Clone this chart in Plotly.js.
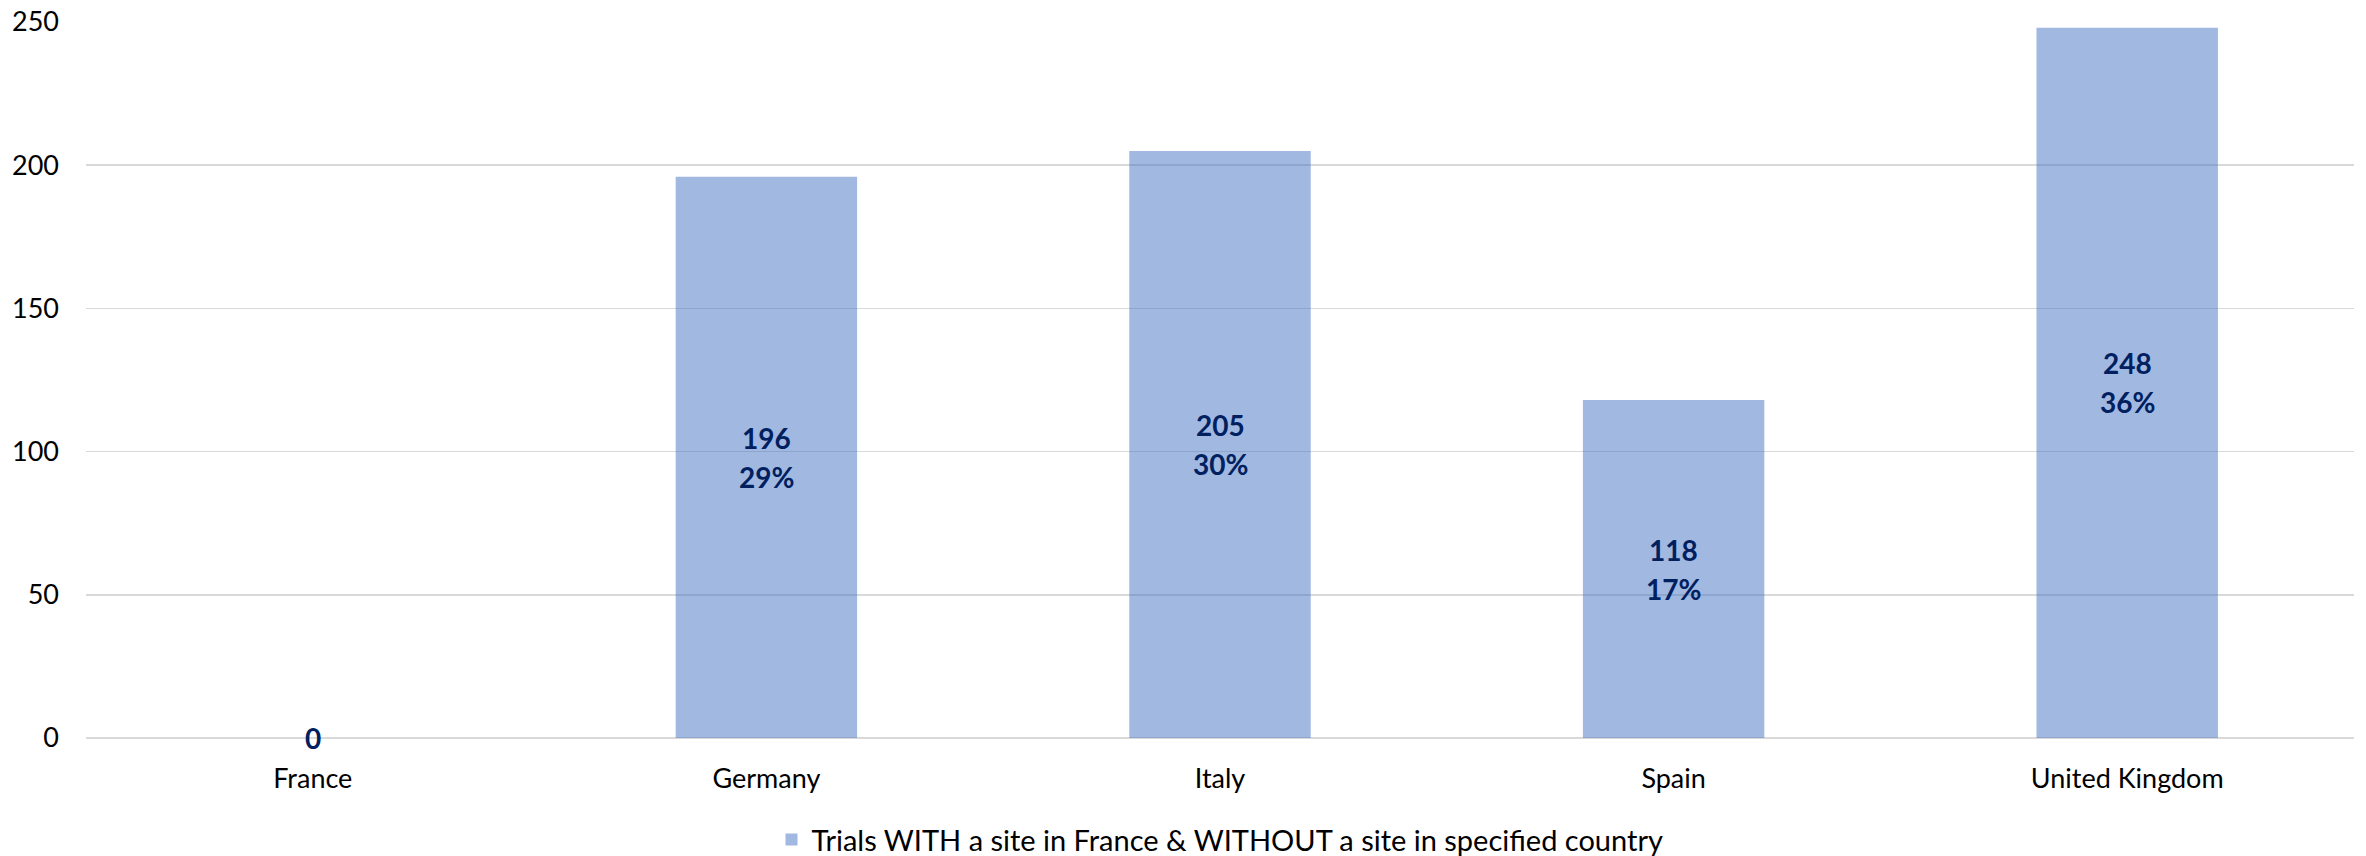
<!DOCTYPE html>
<html>
<head>
<meta charset="utf-8">
<script src="https://cdn.plot.ly/plotly-3.0.1.min.js"></script>
<style>
html,body{margin:0;padding:0;background:#fff;}
#chart{width:2366px;height:856px;}
</style>
</head>
<body>
<div id="chart"></div>
<script>
const countries = ["France", "Germany", "Italy", "Spain", "United Kingdom"];
const trials = [0, 196, 205, 118, 248];
const shares = ["", "29%", "30%", "17%", "36%"];
const seriesName = "Trials WITH a site in France & WITHOUT a site in specified country";
const yTicks = [0, 50, 100, 150, 200, 250];

const FONT = "Lato, 'Open Sans', sans-serif";
const LABEL_COLOR = "#002060";
const HALF_LINE = 19.5;

const annotations = [];
countries.forEach((c, i) => {
  const hasShare = shares[i] !== "";
  annotations.push({
    x: c, y: trials[i] / 2, xref: "x", yref: "y",
    text: "<b>" + trials[i] + "</b>",
    showarrow: false,
    font: {family: FONT, size: 28, color: LABEL_COLOR},
    xanchor: "center", yanchor: "middle",
    yshift: hasShare ? HALF_LINE : 0
  });
  if (hasShare) {
    annotations.push({
      x: c, y: trials[i] / 2, xref: "x", yref: "y",
      text: "<b>" + shares[i] + "</b>",
      showarrow: false,
      font: {family: FONT, size: 28, color: LABEL_COLOR},
      xanchor: "center", yanchor: "middle",
      yshift: -HALF_LINE
    });
  }
});

const data = [{
  type: "bar",
  x: countries,
  y: trials,
  name: seriesName,
  marker: {color: "rgba(68,114,196,0.5)", line: {width: 0}},
  hoverinfo: "skip",
  showlegend: true
}];

const layout = {
  width: 2366,
  height: 856,
  margin: {l: 86, r: 12, t: 22, b: 118, autoexpand: false},
  paper_bgcolor: "#ffffff",
  plot_bgcolor: "#ffffff",
  font: {family: FONT, size: 27, color: "#000000"},
  bargap: 0.6,
  showlegend: true,
  xaxis: {
    type: "category",
    automargin: false,
    showgrid: false,
    showline: false,
    zeroline: false,
    ticks: "",
    ticklabelstandoff: 22,
    tickfont: {family: FONT, size: 27, color: "#000000"}
  },
  yaxis: {
    range: [0, 250],
    automargin: false,
    tickvals: yTicks,
    ticktext: yTicks.map(String),
    showgrid: true,
    gridcolor: "#D9D9D9",
    gridwidth: 1.5,
    zeroline: true,
    zerolinecolor: "#D9D9D9",
    zerolinewidth: 1.5,
    showline: false,
    ticks: "",
    ticklabelstandoff: 26,
    tickfont: {family: FONT, size: 27, color: "#000000"}
  },
  legend: {
    orientation: "h",
    x: 0.5,
    xanchor: "center",
    y: -0.142,
    yanchor: "middle",
    font: {family: FONT, size: 29, color: "#000000"},
    itemwidth: 30
  },
  annotations: annotations
};

Plotly.newPlot("chart", data, layout, {displayModeBar: false, staticPlot: true});
</script>
</body>
</html>
